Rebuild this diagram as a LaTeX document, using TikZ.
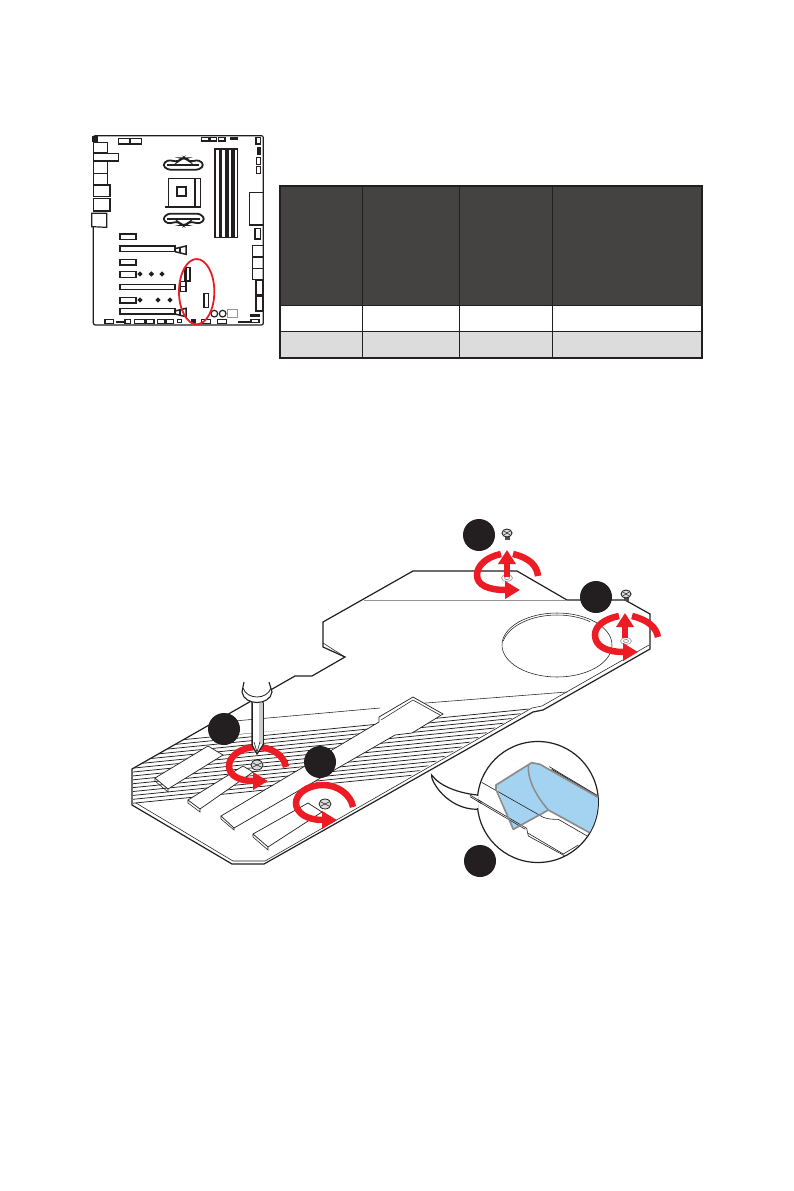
\documentclass[tikz,border=0pt]{standalone}
\usepackage{tikz}
\usetikzlibrary{arrows.meta,positioning,calc,shapes.geometric}
\definecolor{inkblack}{HTML}{231F20}
\definecolor{headdark}{HTML}{444341}
\definecolor{rowgrey}{HTML}{DCDCDC}
\definecolor{ringred}{HTML}{ED1C24}
\definecolor{tapeblue}{HTML}{A3D3F0}
\definecolor{tapeedge}{HTML}{8C8C8C}
\definecolor{steelgrey}{HTML}{939598}
\begin{document}
\begin{tikzpicture}[x=1pt,y=-1pt,
    cell/.style={draw=inkblack, line width=1pt, inner sep=0pt, outer sep=0pt, minimum width=#1},
    badge/.style={circle, fill=inkblack, inner sep=0pt, minimum size=32pt},
    boardline/.style={draw=inkblack, line width=1.2pt},
    boardfill/.style={fill=inkblack, draw=inkblack, line width=.6pt},
    plateline/.style={draw=inkblack, line width=1.2pt, line join=miter},
    thinline/.style={draw=inkblack, line width=.55pt},
    hatchline/.style={draw=inkblack, line width=.75pt},
    slotline/.style={draw=inkblack, line width=.7pt, fill=white},
    ringline/.style={draw=ringred, line width=6.5pt},
    ringarrow/.style={draw=ringred, line width=6.5pt, -{Triangle[length=15pt,width=17pt]}},
    liftarrow/.style={draw=ringred, line width=5.5pt, -{Triangle[length=14pt,width=17pt]}},
    zoomgrid/.style={x=0.33333pt,y=-0.33333pt}
]
\useasboundingbox (0,0) rectangle (794,1191);
\fill[white] (0,0) rectangle (794,1191);

\foreach \cx/\cw in {321/82,410.5/97,505.5/93,627/150} {
    \node[cell=\cw pt, fill=headdark, minimum height=119pt] (headcell\cx) at (\cx,245.5) {};
    \node[cell=\cw pt, fill=white, minimum height=26pt] (rowa\cx) at (\cx,318) {};
    \node[cell=\cw pt, fill=rowgrey, minimum height=27pt] (rowb\cx) at (\cx,344.5) {};
}
\draw[draw=inkblack, line width=2.4pt] (280,186) rectangle (702,358);

\begin{scope}[shift={(80,125)},zoomgrid]
\draw[boardline, rounded corners=2pt] (40,305) -- (40,600) -- (550,600) -- (550,32) -- (40,32) -- (40,50);
\foreach \xa/\ya/\xb/\yb in {115/40/150/57,152/40/185/57,365/37/385/48,390/37/410/48,415/37/435/48,528/37/542/57,
    530/98/542/118,530/125/542/145,40/52/82/82,40/85/115/108,40/110/82/145,40/145/82/178,40/180/90/215,40/220/90/258,
    508/203/550/300,525/310/542/342,518/362/550/395,518/397/550/430,518/430/550/463,528/465/548/510,528/513/548/558,
    120/327/168/343,120/363/285/380,120/404/168/420,120/440/168/457,120/478/285/494,120/517/168/534,120/550/285/568,
    300/470/318/485,300/485/318/500,315/428/330/468,372/505/386/547,
    75/583/100/595,135/583/152/595,163/583/195/595,200/583/222/595,233/583/255/595,260/583/280/595,292/583/305/593,
    365/583/392/595,412/583/440/595,513/583/537/593,405/72/419/337,419/72/436/337,436/72/454/337,454/72/473/337}
    \draw[boardline] (\xa,\ya) rectangle (\xb,\yb);
\foreach \xa/\ya/\xb/\yb in {38/35/52/48,450/37/472/43,532/68/542/88,108/588/135/592,333/583/345/595,475/588/510/592,512/568/537/575,
    419/72/425/337,438/72/444/337,457/72/463/337,120/565/285/568,315/428/320/468}
    \draw[boardfill] (\xa,\ya) rectangle (\xb,\yb);
\draw[boardline] (40,265) -- (35,265) -- (35,305) -- (80,307) -- (80,265) -- cycle;
\draw[boardline, line width=1.3pt] (265,245) -- (265,160) -- (362,160) -- (362,245);
\draw[boardline] (345,160) -- (345,245);
\draw[boardline, line width=2pt] (255,245) -- (362,245);
\draw[boardline, line width=1.8pt] (292,187) rectangle (317,213);
\draw[boardline, line width=1.8pt, rounded corners=3pt] (248,120) -- (262,105) -- (295,110) -- (305,100) -- (318,100) -- (328,110) -- (358,105) -- (372,120) -- (358,134) -- (262,134) -- cycle;
\draw[boardline, line width=1.8pt, rounded corners=3pt] (248,282) -- (262,266) -- (360,266) -- (375,282) -- (360,296) -- (328,290) -- (318,300) -- (305,300) -- (295,290) -- (262,296) -- cycle;
\draw[boardline] (262,120) -- (358,120);
\draw[boardline] (262,282) -- (360,282);
\foreach \lx/\ly in {285/363,285/550} {
    \draw[boardline, line width=1.5pt] (\lx,\ly+8) -- (\lx+33,\ly) -- (\lx+33,\ly+25) -- (\lx,\ly+17);
    \draw[boardline, line width=1.5pt] (\lx+15,\ly+5) -- (\lx+15,\ly+21);
}
\foreach \sx/\sy in {180/447,214/447,246/447,180/525,234/525,270/525}
    \node[diamond, fill=inkblack, inner sep=0pt, minimum size=5.5pt] (boardmark\sx\sy) at (\sx,\sy) {};
\draw[boardline] (403,566) circle[radius=10];
\draw[boardline] (428,566) circle[radius=10];
\draw[boardline, draw=steelgrey] (442,553) rectangle (472,577);
\draw[draw=ringred, line width=1.8pt] (350,500) ellipse[x radius=53, y radius=98];
\end{scope}

\begin{scope}
\clip (133,769) -- (185,739) -- (530,708) -- (410,776) -- (133,806) -- cycle;
\foreach \i in {0,...,16}
    \draw[hatchline] (120,746+\i*3.9) -- (540,704+\i*3.9);
\end{scope}

\draw[plateline] (132,769) -- (132,805) -- (232,864) -- (264,864) -- (533,712) -- (543,710) -- (650,649) -- (650,614) -- (625,600) -- (567,600) -- (517,571) -- (413,571) -- (323,622) -- (323,647) -- (345,657) -- (312,676) -- (295,676) -- cycle;
\draw[thinline] (136,803) -- (233,861) -- (265,861) -- (532,708) -- (542,706) -- (649,645);
\draw[thinline] (323,643) -- (345,657);
\draw[thinline] (212,723) -- (380,708);
\draw[thinline] (413,704) -- (567,692);
\draw[draw=steelgrey, line width=.8pt] (364,600) -- (567,600);
\draw[thinline] (557,645) ellipse[x radius=55, y radius=32];
\begin{scope}
\clip (500,610) rectangle (590,640);
\draw[thinline] (557,648) ellipse[x radius=55, y radius=33];
\end{scope}

\foreach \pa/\pb/\pc/\pd/\pe/\pf/\pg/\ph in {155/778/208/746/223/755/168/789,188/800/243/766/253/772/200/809,253/834/308/803/322/812/268/847} {
    \draw[slotline] (\pa,\pb) -- (\pc,\pd) -- (\pe,\pf) -- (\pg,\ph) -- cycle;
    \draw[thinline] (\pa,\pb) -- (\pa,\pb+3) -- (\pg,\ph+3) -- (\pg,\ph);
}
\draw[slotline] (379,717) -- (413,697) -- (443,714) -- (412,733) -- (395,735) -- (234,828) -- (221,816) -- (379,722) -- cycle;
\draw[thinline] (221,816) -- (221,819) -- (234,830) -- (234,828);
\draw[thinline] (381,720) -- (413,700) -- (440,715);

\foreach \hx/\hy in {507/578,626/641} {
    \draw[draw=steelgrey, line width=.6pt] (\hx,\hy) ellipse[x radius=5.5, y radius=3.5];
    \draw[draw=steelgrey, line width=.6pt] (\hx,\hy) ellipse[x radius=2.5, y radius=1.6];
}
\foreach \tx/\ty in {257/765,325/804} {
    \draw[draw=inkblack, fill=rowgrey, line width=.8pt] (\tx,\ty) ellipse[x radius=6, y radius=5];
    \draw[draw=inkblack, line width=.6pt] (\tx-4,\ty-2) -- (\tx+4,\ty+2) (\tx-4,\ty+2) -- (\tx+4,\ty-2);
}
\foreach \tx/\ty in {507/533,626/594} {
    \fill[steelgrey!40!inkblack] (\tx-2.5,\ty) rectangle (\tx+2.5,\ty+7);
    \draw[draw=inkblack, fill=rowgrey, line width=.9pt] (\tx,\ty) ellipse[x radius=5, y radius=4];
    \draw[draw=inkblack, line width=.5pt] (\tx-3,\ty-2) -- (\tx+3,\ty+2) (\tx-3,\ty+2) -- (\tx+3,\ty-2);
}

\draw[ringarrow] (286,767) .. controls (284,755) and (271,747) .. (257,747) .. controls (240,747) and (229,757) .. (229,766) .. controls (229,776) and (240,781) .. (268,781);
\draw[ringarrow] (353,807) .. controls (351,795) and (338,785) .. (323,785) .. controls (307,785) and (296,794) .. (296,803) .. controls (296,813) and (307,820) .. (337,820);
\draw[ringline] (538,576) .. controls (537,566) and (530,558) .. (513,554);
\draw[ringarrow] (501,554) .. controls (486,557) and (477,566) .. (477,575) .. controls (477,585) and (488,590) .. (520,590);
\draw[ringline] (658,637) .. controls (656,627) and (648,620) .. (632,616);
\draw[ringarrow] (619,616) .. controls (604,619) and (595,626) .. (595,635) .. controls (595,646) and (606,652) .. (638,652);
\coordinate (liftAstart) at (507,577);
\coordinate (liftAend) at (507,550);
\coordinate (liftBstart) at (625,638);
\coordinate (liftBend) at (625,613);
\draw[liftarrow] (liftAstart) -- (liftAend);
\draw[liftarrow] (liftBstart) -- (liftBend);

\draw[draw=inkblack, fill=white, line width=1.2pt] (252,700) -- (252,745) -- (257,754) -- (263,745) -- (263,700) -- cycle;
\fill[steelgrey!50] (259,703) rectangle (263,744);
\draw[draw=inkblack, line width=.7pt] (252,703) -- (252,745) (263,703) -- (263,745);
\draw[draw=inkblack, fill=white, line width=1.1pt] (244,682) -- (242,692) .. controls (244,706) and (270,706) .. (272,692) -- (269,682);
\draw[draw=inkblack, line width=.8pt] (243,688) .. controls (247,700) and (267,700) .. (271,688);
\draw[draw=inkblack, line width=.6pt] (254,742) -- (257,752) -- (260,742);

\begin{scope}[shift={(420,730)},zoomgrid]
\draw[draw=inkblack, fill=white, line width=1.2pt] (172,195) .. controls (120,190) and (60,170) .. (35,135) .. controls (30,150) and (80,238) .. (172,238);
\draw[draw=inkblack, fill=white, line width=1.2pt] (353.5,216) circle[radius=181.5];
\draw[draw=white, line width=2pt] (172,199) -- (172,234);
\draw[draw=inkblack, line width=.6pt] (150,195) -- (185,216) (150,200) -- (185,221);
\begin{scope}
\clip (353.5,216) circle[radius=180];
\fill[tapeblue] (228,165) -- (335,98) -- (360,103) -- (540,205) -- (540,320) -- (385,240) -- (280,298) -- cycle;
\draw[draw=inkblack, line width=.6pt] (185,157) -- (370,262) .. controls (385,268) and (400,268) .. (415,268) -- (505,320);
\draw[draw=inkblack, line width=.6pt] (150,195) -- (320,295) -- (325,318) -- (435,378);
\draw[draw=inkblack, line width=.6pt] (150,200) -- (316,298);
\draw[draw=inkblack, line width=.6pt] (325,310) -- (430,372) -- (475,345);
\draw[draw=inkblack, line width=.6pt] (388,110) -- (530,195);
\draw[draw=inkblack, line width=.9pt] (395,118) -- (535,200);
\draw[draw=tapeedge, line width=1.7pt, line join=round] (540,325) -- (385,240) -- (280,298) -- (228,178) -- (228,165) -- (335,98) -- (360,103) -- (540,205);
\draw[draw=tapeedge, line width=1.5pt] (325,105) .. controls (322,150) and (350,200) .. (385,240);
\end{scope}
\end{scope}

\node[badge] (badgeD) at (479,535) {};
\node[badge] (badgeE) at (596,597) {};
\node[badge] (badgeA) at (224,729) {};
\node[badge] (badgeB) at (320,762) {};
\node[badge] (badgeC) at (480,861) {};

\end{tikzpicture}
\end{document}
